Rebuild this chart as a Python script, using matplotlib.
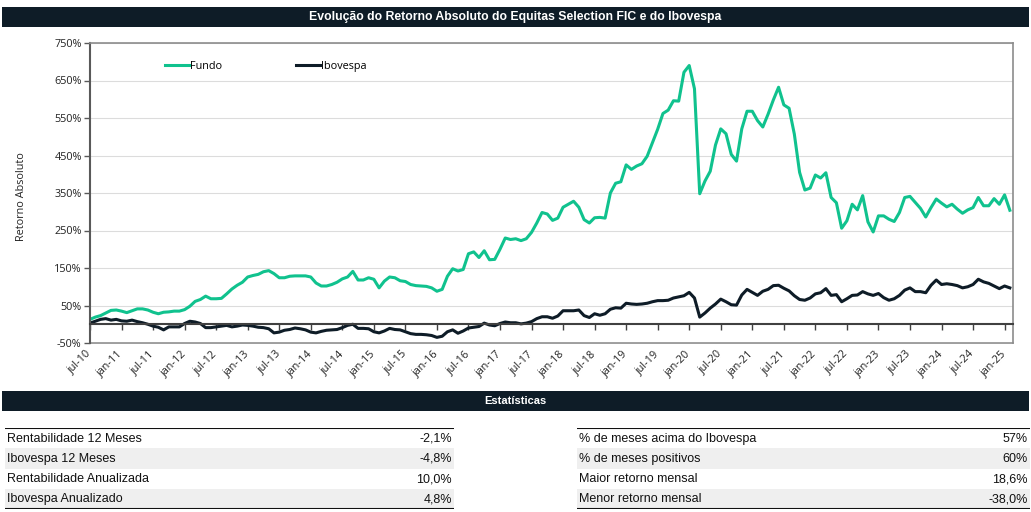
import matplotlib.pyplot as plt

# Retorno absoluto acumulado (%), mensal de jul-10 a fev-25
fundo = [13, 19, 23, 30, 37, 38, 35, 31, 36, 41,
         41, 38, 32, 28, 32, 33, 35, 35, 39, 48,
         61, 66, 75, 68, 68, 69, 81, 94, 104, 112,
         126, 130, 133, 140, 143, 135, 124, 124, 128, 129,
         129, 129, 126, 110, 102, 102, 106, 112, 121, 126,
         141, 118, 118, 124, 120, 97, 115, 126, 124, 116,
         114, 106, 103, 102, 101, 97, 88, 93, 128, 148,
         142, 146, 188, 193, 178, 196, 172, 173, 200, 230,
         226, 228, 223, 228, 245, 270, 298, 294, 277, 283,
         312, 320, 328, 312, 279, 270, 284, 285, 283, 350,
         376, 380, 425, 413, 422, 428, 448, 484, 520, 562,
         571, 596, 595, 672, 690, 628, 348, 382, 408, 478,
         521, 508, 453, 435, 521, 568, 568, 543, 526, 560,
         598, 632, 585, 576, 507, 405, 358, 363, 398, 390,
         404, 338, 324, 256, 276, 320, 305, 343, 273, 246,
         289, 289, 280, 274, 298, 338, 341, 325, 309, 286,
         311, 334, 323, 313, 320, 307, 296, 305, 311, 338,
         316, 316, 335, 320, 345, 304]

ibovespa = [3, 8, 13, 15, 11, 13, 9, 8, 11, 7,
            4, 0, -5, -8, -15, -7, -7, -7, 2, 8,
            6, 2, -9, -9, -7, -5, -3, -7, -5, -2,
            -3, -5, -8, -9, -12, -23, -21, -16, -14, -10,
            -12, -15, -21, -23, -19, -16, -15, -14, -9, -3,
            0, -11, -11, -12, -20, -23, -18, -11, -14, -15,
            -20, -25, -27, -27, -28, -30, -35, -32, -20, -15,
            -24, -18, -10, -8, -6, 3, -2, -4, 2, 6,
            4, 4, 1, 3, 7, 15, 20, 20, 16, 22,
            36, 36, 36, 38, 23, 18, 28, 24, 28, 40,
            44, 43, 56, 54, 53, 54, 56, 60, 63, 63,
            64, 70, 73, 76, 85, 70, 19, 30, 43, 54,
            67, 60, 52, 51, 78, 93, 85, 77, 88, 93,
            103, 104, 96, 89, 76, 66, 64, 70, 81, 84,
            95, 77, 79, 60, 68, 77, 78, 87, 81, 77,
            82, 71, 64, 68, 77, 91, 97, 87, 87, 84,
            104, 118, 106, 108, 106, 103, 97, 100, 106, 120,
            113, 109, 102, 95, 102, 97]

x_labels = ['jul-10', 'jan-11', 'jul-11', 'jan-12', 'jul-12', 'jan-13',
            'jul-13', 'jan-14', 'jul-14', 'jan-15', 'jul-15', 'jan-16',
            'jul-16', 'jan-17', 'jul-17', 'jan-18', 'jul-18', 'jan-19',
            'jul-19', 'jan-20', 'jul-20', 'jan-21', 'jul-21', 'jan-22',
            'jul-22', 'jan-23', 'jul-23', 'jan-24', 'jul-24', 'jan-25']
y_ticks = [-50, 50, 150, 250, 350, 450, 550, 650, 750]

stats_left_labels = ['Rentabilidade 12 Meses', 'Ibovespa 12 Meses',
                     'Rentabilidade Anualizada', 'Ibovespa Anualizado']
stats_left_values = ['-2,1%', '-4,8%', '10,0%', '4,8%']
stats_right_labels = ['% de meses acima do Ibovespa', '% de meses positivos',
                      'Maior retorno mensal', 'Menor retorno mensal']
stats_right_values = ['57%', '60%', '18,6%', '-38,0%']

GREEN = '#10c28e'
NAVY = '#0e1c27'
CHART_FONT = 'Open Sans'
TABLE_FONT = 'Liberation Sans'
FS = 7.8

W, H = 1031, 512


def box(x0, y0, x1, y1):
    # pixel box (top-left origin) -> figure fraction rect
    return [x0 / W, 1 - y1 / H, (x1 - x0) / W, (y1 - y0) / H]


fig = plt.figure(figsize=(W / 100, H / 100), dpi=100)


def header(x0, y0, x1, y1, text, size):
    hax = fig.add_axes(box(x0, y0, x1, y1))
    hax.set_facecolor(NAVY)
    hax.set_xticks([])
    hax.set_yticks([])
    for s in hax.spines.values():
        s.set_visible(False)
    hax.text(0.5, 0.5, text, color='white', fontweight='bold', fontsize=size,
             family=TABLE_FONT, ha='center', va='center', transform=hax.transAxes)


header(2, 7, 1029, 27, 'Evolução do Retorno Absoluto do Equitas Selection FIC e do Ibovespa', 8.8)
header(2, 391, 1029, 411, 'Estatísticas', 8)

# Main chart
ax = fig.add_axes(box(90, 43, 1013, 343))
months = list(range(len(fundo)))
ax.plot(months, fundo, color=GREEN, lw=2.2, label='Fundo', solid_joinstyle='round')
ax.plot(months, ibovespa, color=NAVY, lw=2.2, label='Ibovespa', solid_joinstyle='round')

ax.set_xlim(0, 175.6)
ax.set_ylim(-50, 750)
ax.set_yticks(y_ticks)
ax.set_yticklabels([f'{v}%' for v in y_ticks], family=CHART_FONT, fontsize=FS, color='#222222')
ax.tick_params(axis='y', direction='out', length=4, width=1, color='#595959', pad=2)
ax.set_axisbelow(True)
ax.yaxis.grid(True, color='#dcdcdc', lw=0.8)

ax.spines['left'].set_color('#595959')
ax.spines['left'].set_linewidth(1.5)
for side in ['top', 'right']:
    ax.spines[side].set_color('#8c8c8c')
    ax.spines[side].set_linewidth(1.2)
ax.spines['bottom'].set_position(('data', 0))
ax.spines['bottom'].set_color('#404040')
ax.spines['bottom'].set_linewidth(1.5)

tick_pos = list(range(0, 6 * len(x_labels), 6))
ax.set_xticks(tick_pos)
ax.tick_params(axis='x', direction='out', length=4, width=1, color='#404040', labelbottom=False)

sec = ax.secondary_xaxis('bottom')
sec.set_xticks(tick_pos)
sec.set_xticklabels(x_labels, rotation=45, ha='right', va='center', rotation_mode='anchor',
                    family=CHART_FONT, fontsize=FS, color='#222222')
sec.tick_params(axis='x', length=0, pad=7)
sec.spines['bottom'].set_color('#8c8c8c')
sec.spines['bottom'].set_linewidth(1.2)

ax.legend(loc='upper left', bbox_to_anchor=(0.081, 0.94), ncol=2, frameon=False,
          handlelength=2.2, handletextpad=0.15, columnspacing=6.8, borderpad=0,
          borderaxespad=0, prop={'family': CHART_FONT, 'size': FS})

fig.text(22 / W, 1 - 197 / H, 'Retorno Absoluto', rotation=90, ha='center', va='center',
         family=CHART_FONT, fontsize=FS, color='#222222')


# Statistics tables
def stats_table(x0, x1, labels, values):
    tax = fig.add_axes(box(x0, 428, x1, 509))
    tax.set_xlim(0, 1)
    tax.set_ylim(len(labels), 0)
    tax.axis('off')
    for i, (lab, val) in enumerate(zip(labels, values)):
        if i % 2 == 1:
            tax.axhspan(i, i + 1, color='#efefef', lw=0)
        tax.text(0.005, i + 0.52, lab, ha='left', va='center', family=TABLE_FONT,
                 fontsize=9, color='#111111')
        tax.text(0.995, i + 0.52, val, ha='right', va='center', family=TABLE_FONT,
                 fontsize=9, color='#111111')
    tax.axhline(0, color='#111111', lw=1.5)
    tax.axhline(len(labels), color='#111111', lw=1.5)


stats_table(5, 454, stats_left_labels, stats_left_values)
stats_table(577, 1030, stats_right_labels, stats_right_values)

fig.savefig('out.png', dpi=100)
